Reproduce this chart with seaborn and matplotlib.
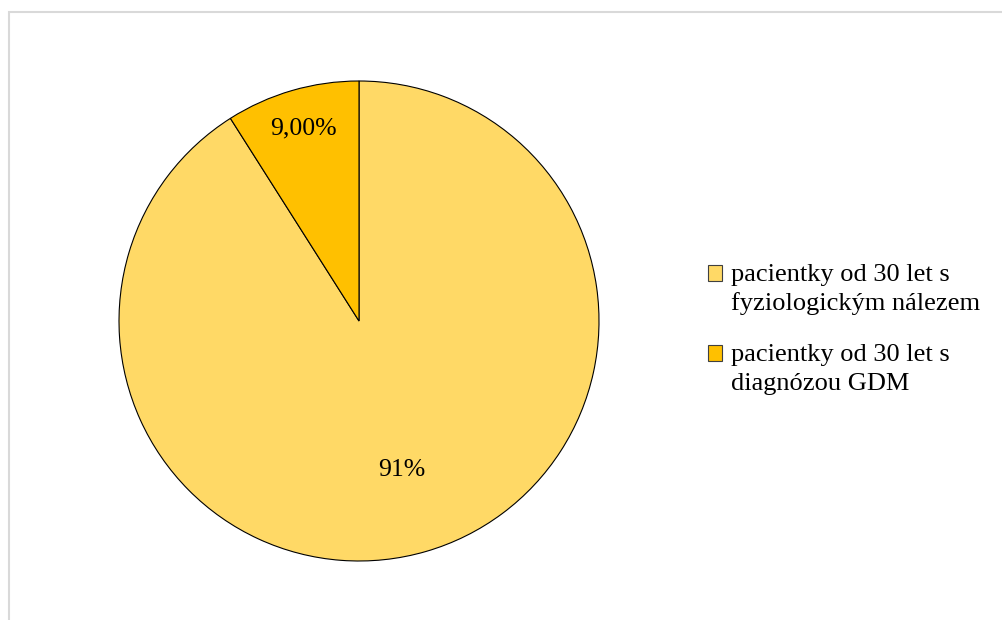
import matplotlib
matplotlib.use("Agg")
import matplotlib.pyplot as plt
from matplotlib.patches import Patch, Rectangle
from matplotlib.legend_handler import HandlerPatch
import numpy as np
import seaborn as sns

# Data
categories = ["pacientky od 30 let s\nfyziologickým nálezem",
              "pacientky od 30 let s\ndiagnózou GDM"]
values = [91, 9]
value_labels = ["91%", "9,00%"]
label_distance = [0.645, 0.835]
colors = ["#FFD966", "#FFC000"]

sns.set_theme(style="white")
plt.rcParams["font.family"] = ["Liberation Serif", "DejaVu Serif"]
plt.rcParams["text.color"] = "black"

W, H = 1003, 620
fig = plt.figure(figsize=(W / 100, H / 100), dpi=100)
fig.patch.set_facecolor("white")

# Outer chart-area frame
fig.patches.append(Rectangle((9 / W, -0.1), 1.2, 1 - 12 / H + 0.1,
                             transform=fig.transFigure, fill=False,
                             edgecolor="#D9D9D9", linewidth=1.5))

cx, cy, r = 359, 321, 240
ax = fig.add_axes([(cx - r) / W, (H - cy - r) / H, 2 * r / W, 2 * r / H])
wedges, _ = ax.pie(values, colors=colors, startangle=90, counterclock=False,
                   radius=1.0,
                   wedgeprops=dict(edgecolor="black", linewidth=0.8))
ax.set_xlim(-1, 1)
ax.set_ylim(-1, 1)
ax.set_aspect("equal")
ax.axis("off")

for w, txt, d in zip(wedges, value_labels, label_distance):
    mid = np.deg2rad((w.theta1 + w.theta2) / 2)
    ax.text(d * np.cos(mid), d * np.sin(mid), txt, ha="center", va="center",
            fontsize=18.5, color="black")

LEG_FS = 19


def top_square(legend, orig_handle, xdescent, ydescent, width, height, fontsize):
    # square marker aligned with the first line of a two-line label
    return Rectangle((-xdescent, -ydescent + 0.6 * fontsize), width, height)


handles = [Patch(facecolor=c, edgecolor="#404040", linewidth=0.8) for c in colors]
leg = fig.legend(handles, categories, loc="upper left",
                 bbox_to_anchor=(708 / W, 1 - 264 / H), frameon=False,
                 fontsize=LEG_FS, labelcolor="black",
                 handlelength=0.53, handleheight=0.53,
                 handletextpad=0.35, labelspacing=1.1, borderpad=0,
                 borderaxespad=0,
                 handler_map={Patch: HandlerPatch(patch_func=top_square)})
for t in leg.get_texts():
    t.set_linespacing(1.36)

fig.savefig("out.png", dpi=100, facecolor="white")
